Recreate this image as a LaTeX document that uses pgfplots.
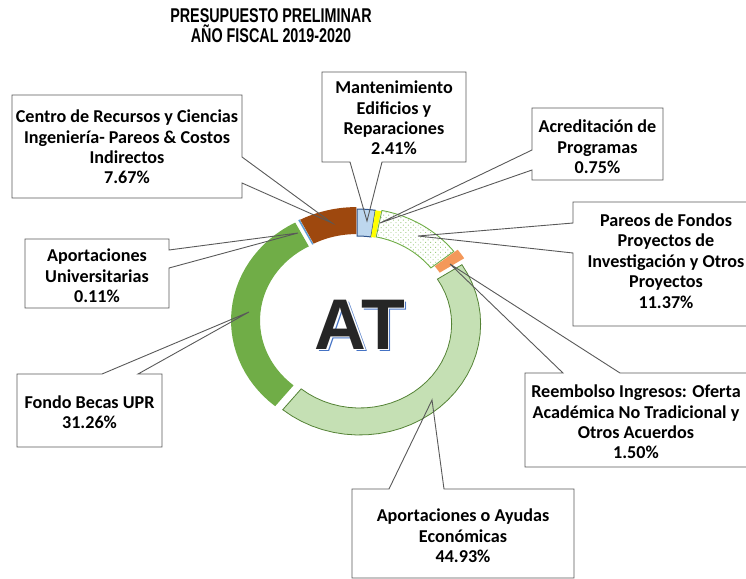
\documentclass[border=0pt]{standalone}
\usepackage{pgfplots}
\pgfplotsset{compat=1.18}
\usetikzlibrary{patterns.meta}
\usepackage{fontspec}
\setmainfont{Carlito}
\newfontfamily\titlefont{Liberation Sans}[FakeStretch=0.72]
\newfontfamily\atfont{Liberation Sans}
\definecolor{cMant}{RGB}{189,215,238}
\definecolor{cMantB}{RGB}{46,84,140}
\definecolor{cYel}{RGB}{255,255,0}
\definecolor{cPar}{RGB}{112,173,71}
\definecolor{cParD}{RGB}{160,204,130}
\definecolor{cReem}{RGB}{244,152,90}
\definecolor{cAyu}{RGB}{197,224,180}
\definecolor{cAyuB}{RGB}{84,130,53}
\definecolor{cBec}{RGB}{112,173,71}
\definecolor{cUni}{RGB}{91,155,213}
\definecolor{cBro}{RGB}{158,72,14}
\definecolor{cLine}{RGB}{89,89,89}
\definecolor{cAT}{RGB}{38,38,38}
\definecolor{cATs}{RGB}{68,114,196}

\def\cx{357}\def\cy{321}\def\Rox{121}\def\Roy{111}\def\Rix{92}\def\Riy{84}
\gdef\cum{0}
% #1 = share in percent, #2 = explode (px), #3 = style
\newcommand\seg[3]{%
  \pgfmathsetmacro\tA{3.6*\cum}%
  \pgfmathsetmacro\tB{3.6*(\cum+#1)}%
  \pgfmathsetmacro\tM{(\tA+\tB)/2}%
  \pgfmathsetmacro\ex{\cx+#2*sin(\tM)}%
  \pgfmathsetmacro\ey{\cy-#2*cos(\tM)}%
  \pgfmathsetmacro\nc{\cum+#1}%
  \xdef\cum{\nc}%
  \edef\doseg{\noexpand\addplot[#3, domain=0:2, samples=62, variable=\noexpand\s]
    ({\ex+ifthenelse(\noexpand\s<1, \Rox*sin(\tA+(\tB-\tA)*\noexpand\s*61/60), \Rix*sin(\tB-(\tB-\tA)*(\noexpand\s*61-62)/60))},
     {\ey-ifthenelse(\noexpand\s<1, \Roy*cos(\tA+(\tB-\tA)*\noexpand\s*61/60), \Riy*cos(\tB-(\tB-\tA)*(\noexpand\s*61-62)/60))}) -- cycle;}%
  \doseg}

\pgfplotsset{
 segMant/.style={fill=cMant, draw=cMantB, line width=1bp},
 segYel/.style={fill=cYel, draw=none},
 segPar/.style={pattern={Dots[distance=3.5bp, radius=0.65bp, angle=45]}, pattern color=cParD, draw=cPar, line width=0.9bp},
 segReem/.style={fill=cReem, draw=none},
 segAyu/.style={fill=cAyu, draw=cAyuB, line width=0.8bp},
 segBec/.style={fill=cBec, draw=none},
 segUni/.style={fill=white, draw=cUni, line width=0.8bp},
 segBro/.style={fill=cBro, draw=none},
}

\begin{document}
\begin{tikzpicture}
\useasboundingbox (0,0) rectangle (746bp,579bp);
\begin{axis}[at={(0,0)}, anchor=south west, x=1bp, y=1bp,
  xmin=0, xmax=746, ymin=0, ymax=579, y dir=reverse,
  hide axis, clip=false, enlargelimits=false]
% donut segments, clockwise from 12 o'clock
\seg{2.41}{1}{segMant}
\seg{0.75}{1}{segYel}
\seg{11.37}{2}{segPar}
\seg{1.50}{6}{segReem}
\seg{44.93}{4}{segAyu}
\seg{31.26}{5}{segBec}
\seg{0.11}{3}{segUni}
\seg{7.67}{3}{segBro}

% callouts
\begin{scope}[cLine, line width=0.9bp]
\draw (axis cs:12,95) -- (axis cs:242,95) -- (axis cs:242,157) -- (axis cs:332,223) -- (axis cs:242,183) -- (axis cs:242,198) -- (axis cs:12,198) -- cycle;
\draw (axis cs:322,72) -- (axis cs:466,72) -- (axis cs:466,162) -- (axis cs:382,162) -- (axis cs:367,221) -- (axis cs:350,162) -- (axis cs:322,162) -- cycle;
\draw (axis cs:532,108) -- (axis cs:663,108) -- (axis cs:663,180) -- (axis cs:532,180) -- (axis cs:532,170) -- (axis cs:380,223) -- (axis cs:532,150) -- cycle;
\draw (axis cs:573,202) -- (axis cs:780,202) -- (axis cs:780,326) -- (axis cs:573,326) -- (axis cs:573,253) -- (axis cs:418,236) -- (axis cs:573,223) -- cycle;
\draw (axis cs:525,373) -- (axis cs:563,373) -- (axis cs:450,264) -- (axis cs:620,373) -- (axis cs:760,373) -- (axis cs:760,467) -- (axis cs:525,467) -- cycle;
\draw (axis cs:25,239) -- (axis cs:169,239) -- (axis cs:169,250) -- (axis cs:298,233) -- (axis cs:169,268) -- (axis cs:169,308) -- (axis cs:25,308) -- cycle;
\draw (axis cs:17,374) -- (axis cs:102,374) -- (axis cs:249,312) -- (axis cs:138,374) -- (axis cs:162,374) -- (axis cs:162,447) -- (axis cs:17,447) -- cycle;
\draw (axis cs:352,489) -- (axis cs:389,489) -- (axis cs:432,400) -- (axis cs:444,489) -- (axis cs:574,489) -- (axis cs:574,578) -- (axis cs:352,578) -- cycle;
\end{scope}

\begin{scope}[every node/.style={align=center, font=\bfseries\fontsize{18.2}{20.5}\selectfont, inner sep=0pt}]
\node at (axis cs:127,147) {Centro de Recursos y Ciencias\\Ingeniería- Pareos \& Costos\\Indirectos\\7.67\%};
\node at (axis cs:394,118) {Mantenimiento\\Edificios y\\Reparaciones\\2.41\%};
\node at (axis cs:597.5,147) {Acreditación de\\Programas\\0.75\%};
\node at (axis cs:666,261) {Pareos de Fondos\\Proyectos de\\Investigación y Otros\\Proyectos\\11.37\%};
\node at (axis cs:636,422) {Reembolso Ingresos: Oferta\\Académica No Tradicional y\\Otros Acuerdos\\1.50\%};
\node at (axis cs:97,276) {Aportaciones\\Universitarias\\0.11\%};
\node at (axis cs:89.5,412) {Fondo Becas UPR\\31.26\%};
\node at (axis cs:463,536) {Aportaciones o Ayudas\\Económicas\\44.93\%};
\end{scope}

\node[font=\titlefont\bfseries\fontsize{20}{20}\selectfont, align=center, inner sep=0pt] at (axis cs:271,26) {PRESUPUESTO PRELIMINAR\\AÑO FISCAL 2019-2020};

\node[anchor=base, inner sep=0pt, text=cATs, font=\atfont\bfseries\fontsize{72}{72}\selectfont] at (axis cs:362.5,351.5) {AT};
\node[anchor=base, inner sep=0pt, text=white, font=\atfont\bfseries\fontsize{72}{72}\selectfont] at (axis cs:361.2,350.2) {AT};
\node[anchor=base, inner sep=0pt, text=cAT, font=\atfont\bfseries\fontsize{72}{72}\selectfont] at (axis cs:360,349) {AT};
\end{axis}
\end{tikzpicture}
\end{document}
